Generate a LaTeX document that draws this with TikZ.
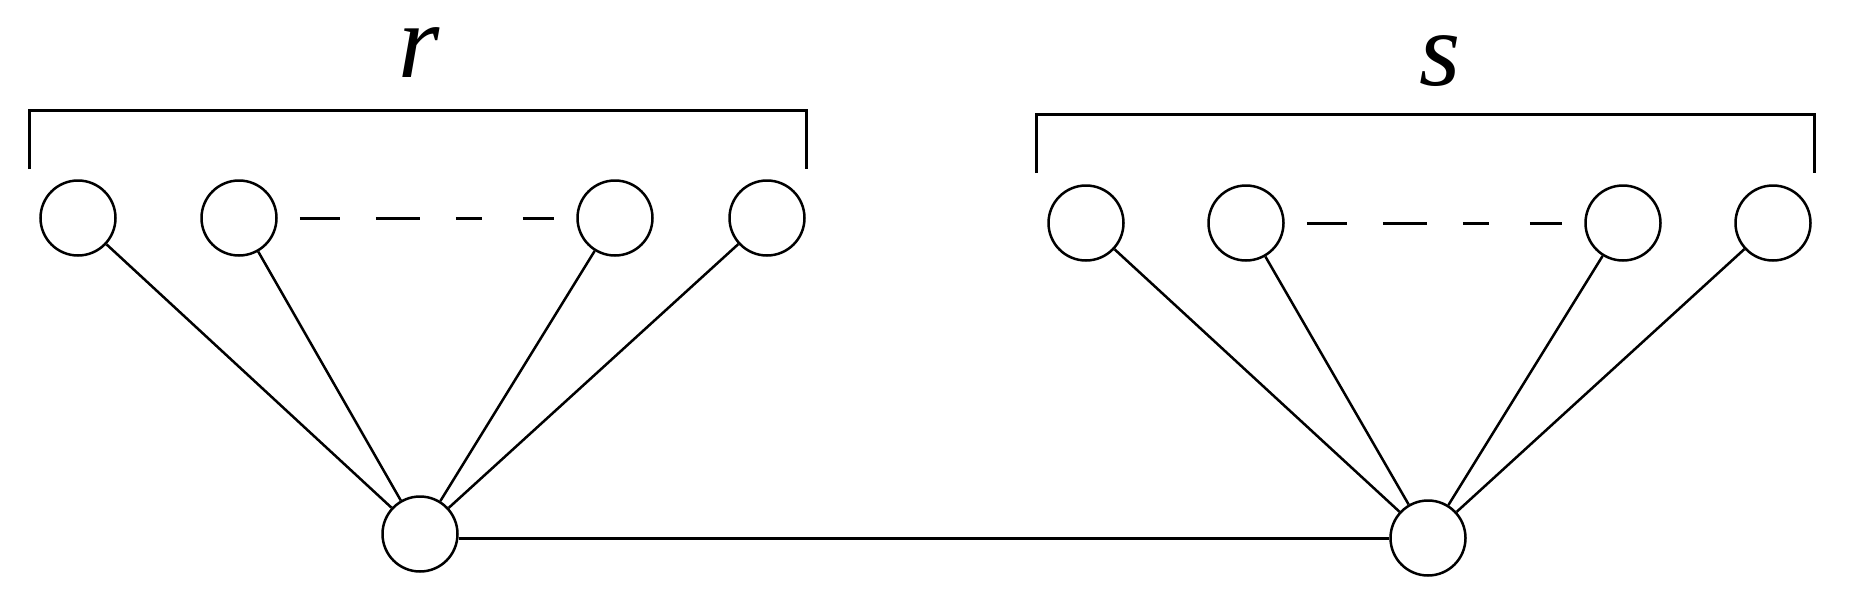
\documentclass[tikz,border=0pt]{standalone}
\usepackage{fontspec}
\setmainfont{Liberation Serif}
\newfontfamily\lblfont{Liberation Serif Italic}
\begin{document}
\begin{tikzpicture}[x=1pt,y=-1pt,
  vnode/.style={circle,draw,line width=2.5pt,minimum size=75pt,inner sep=0pt},
  spoke/.style={line width=2.5pt},
  brk/.style={line width=3pt},
  dots/.style={line width=3pt,shorten <=22pt,shorten >=22pt,
     dash pattern=on 40pt off 36pt on 44pt off 36pt on 26pt off 41pt on 35pt off 200pt},
  lbl/.style={inner sep=0pt,font=\lblfont\fontsize{106}{106}\selectfont}]
\useasboundingbox (0,0) rectangle (1850,603);
% left group
\node[vnode] (a1) at (78,218) {};
\node[vnode] (a2) at (239,218) {};
\node[vnode] (a3) at (615,218) {};
\node[vnode] (a4) at (767,218) {};
\node[vnode] (lh) at (420,534) {};
% right group
\node[vnode] (b1) at (1086,223) {};
\node[vnode] (b2) at (1246,223) {};
\node[vnode] (b3) at (1623,223) {};
\node[vnode] (b4) at (1773,223) {};
\node[vnode] (rh) at (1428,538) {};
% labels
\node[lbl,anchor=base] (lr) at (419,77) {r};
\node[lbl,anchor=base] (ls) at (1440,85) {s};
% brackets
\draw[brk] (29,169) -- (29,110) -- (806,110) -- (806,169);
\draw[brk] (1036,173) -- (1036,114) -- (1814,114) -- (1814,173);
% dashed
\draw[dots] (a2) -- (a3);
\draw[dots] (b2) -- (b3);
% spokes
\foreach \n in {a1,a2,a3,a4} \draw[spoke] (\n) -- (lh);
\foreach \n in {b1,b2,b3,b4} \draw[spoke] (\n) -- (rh);
% link
\draw[brk] (rh.west -| lh.east) -- (rh.west);
\end{tikzpicture}
\end{document}
